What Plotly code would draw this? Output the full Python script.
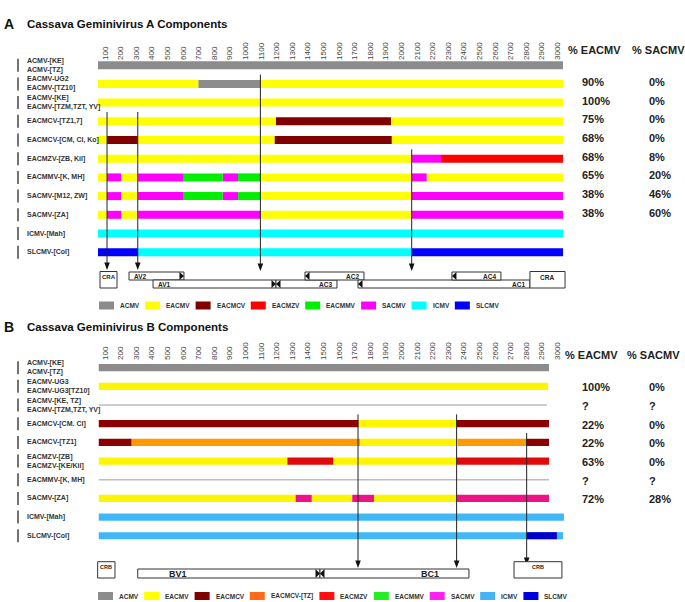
import plotly.graph_objects as go

W, H = 685, 602
FONT = "Liberation Sans, Arial, Helvetica, sans-serif"

# ---------------- Panel A data ----------------
A_ROWS = ["ACMV-[KE]<br>ACMV-[TZ]", "EACMV-UG2<br>EACMV-[TZ10]", "EACMV-[KE]<br>EACMV-[TZM,TZT, YV]",
          "EACMCV-[TZ1,7]", "EACMCV-[CM, CI, Ko]", "EACMZV-[ZB, Kil]", "EACMMV-[K, MH]",
          "SACMV-[M12, ZW]", "SACMV-[ZA]", "ICMV-[Mah]", "SLCMV-[Col]"]
A_BREAKS = [
    [55, 3036],
    [55, 698, 1096, 3036],
    [55, 3036],
    [55, 1196, 1933, 3036],
    [55, 113, 310, 1188, 1938, 3036],
    [55, 2066, 2254, 3036],
    [55, 113, 204, 312, 600, 854, 953, 1096, 2066, 2162, 3036],
    [55, 113, 204, 312, 600, 854, 953, 1096, 2066, 3036],
    [55, 113, 204, 312, 1096, 2066, 3036],
    [55, 3036],
    [55, 312, 2066, 3036],
]
A_SOURCE = [
    ["ACMV"],
    ["EACMV", "ACMV", "EACMV"],
    ["EACMV"],
    ["EACMV", "EACMCV", "EACMV"],
    ["EACMV", "EACMCV", "EACMV", "EACMCV", "EACMV"],
    ["EACMV", "SACMV", "EACMZV"],
    ["EACMV", "SACMV", "EACMV", "SACMV", "EACMMV", "SACMV", "EACMMV", "EACMV", "SACMV", "EACMV"],
    ["EACMV", "SACMV", "EACMV", "SACMV", "EACMMV", "SACMV", "EACMMV", "EACMV", "SACMV"],
    ["EACMV", "SACMV", "EACMV", "SACMV", "EACMV", "SACMV"],
    ["ICMV"],
    ["SLCMV", "ICMV", "SLCMV"],
]
A_PCT_EACMV = ["", "90%", "100%", "75%", "68%", "68%", "65%", "38%", "38%", "", ""]
A_PCT_SACMV = ["", "0%", "0%", "0%", "0%", "8%", "20%", "46%", "60%", "", ""]
A_BREAKPOINT_NT = [113, 310, 1096, 2066]
A_BREAKPOINT_FROM_ROW = [2.5, 2.5, 0.5, 4.5]
A_ORF_NAMES = ["CRA", "AV2", "AV1", "AC3", "AC2", "AC1", "AC4", "CRA"]
A_ORF_START = [68, 254, 408, 1196, 1382, 1722, 2324, 2824]
A_ORF_END = [177, 606, 1196, 1587, 1760, 2824, 2638, 3049]
A_ORF_TRACK = ["both", "upper", "lower", "lower", "upper", "lower", "upper", "both"]
A_ORF_STRAND = ["", "+", "+", "-", "-", "-", "-", ""]
A_LEGEND = ["ACMV", "EACMV", "EACMCV", "EACMZV", "EACMMV", "SACMV", "ICMV", "SLCMV"]

# ---------------- Panel B data ----------------
B_ROWS = ["ACMV-[KE]<br>ACMV-[TZ]", "EACMV-UG3<br>EACMV-UG3[TZ10]", "EACMV-[KE, TZ]<br>EACMV-[TZM,TZT, YV]",
          "EACMCV-[CM. CI]", "EACMCV-[TZ1]", "EACMZV-[ZB]<br>EACMZV-[KE/Kil]", "EACMMV-[K, MH]",
          "SACMV-[ZA]", "ICMV-[Mah]", "SLCMV-[Col]"]
B_BREAKS = [
    [60, 2946],
    [60, 2940],
    [60, 2933],
    [60, 1724, 2354, 2946],
    [60, 271, 1735, 2361, 2799, 2946],
    [60, 1269, 1563, 2354, 2946],
    [60, 2946],
    [60, 1322, 1425, 1685, 1824, 2354, 2946],
    [60, 3042],
    [60, 2805, 2997, 3036],
]
B_SOURCE = [
    ["ACMV"],
    ["EACMV"],
    ["NONE"],
    ["EACMCV", "EACMV", "EACMCV"],
    ["EACMCV", "EACMCV-[TZ]", "EACMV", "EACMCV-[TZ]", "EACMCV"],
    ["EACMV", "EACMZV", "EACMV", "EACMZV"],
    ["NONE"],
    ["EACMV", "SACMV", "EACMV", "SACMV", "EACMV", "SACMV"],
    ["ICMV"],
    ["ICMV", "SLCMV", "ICMV"],
]
B_PCT_EACMV = ["", "100%", "?", "22%", "22%", "63%", "?", "72%", "", ""]
B_PCT_SACMV = ["", "0%", "?", "0%", "0%", "0%", "?", "28%", "", ""]
B_BREAKPOINT_NT = [1722, 2354, 2803]
B_BREAKPOINT_FROM_ROW = [2.5, 2.5, 3.5]
B_ORF_NAMES = ["CRB", "BV1", "BC1", "CRB"]
B_ORF_START = [53, 310, 1478, 2722]
B_ORF_END = [164, 1478, 2433, 3029]
B_ORF_TRACK = ["both", "lower", "lower", "both"]
B_ORF_STRAND = ["", "+", "-", ""]
B_LEGEND = ["ACMV", "EACMV", "EACMCV", "EACMCV-[TZ]", "EACMZV", "EACMMV", "SACMV", "ICMV", "SLCMV"]

TICKS = list(range(100, 3001, 100))

# ---------------- styles ----------------
A_COLORS = {"ACMV": "#8c8c8c", "EACMV": "#ffff00", "EACMCV": "#800000", "EACMZV": "#ff0000",
            "EACMMV": "#00ee00", "SACMV": "#ff00ff", "ICMV": "#00ffff", "SLCMV": "#0000ff"}
B_COLORS = {"ACMV": "#8c8c8c", "EACMV": "#fff500", "EACMCV": "#8b0000", "EACMCV-[TZ]": "#ff9900",
            "EACMZV": "#e00a0a", "EACMMV": "#00ee00", "SACMV": "#ee1188", "ICMV": "#40b8f8",
            "SLCMV": "#0000cc"}
B_LEGEND_COLORS = {"ACMV": "#8c8c8c", "EACMV": "#ffff00", "EACMCV": "#800000", "EACMCV-[TZ]": "#ff6a1a",
                   "EACMZV": "#ff1010", "EACMMV": "#22ee22", "SACMV": "#ff22ee", "ICMV": "#44b4f4",
                   "SLCMV": "#0000dd"}

X100_PX = 105.0
PX_PER_NT = 0.156

fig = go.Figure()


def x_range():
    return [100 - X100_PX / PX_PER_NT, 100 + (W - X100_PX) / PX_PER_NT]


def y_range(row0, step):
    return [(H - row0) / step, -row0 / step]


def add_panel(p):
    xa, ya = p["xa"], p["ya"]
    xr, yr = xa, ya
    row0, step = p["row0"], p["step"]

    def rowy(px):
        return (px - row0) / step

    # bars
    groups = {}
    for i, (b, s) in enumerate(zip(p["breaks"], p["src"])):
        for j, v in enumerate(s):
            if v == "NONE":
                fig.add_trace(go.Scatter(x=[b[j], b[j + 1]], y=[i, i], mode="lines",
                                         line=dict(color="#bdbdbd", width=1.5),
                                         xaxis=xa, yaxis=ya, hoverinfo="skip", showlegend=False))
                continue
            g = groups.setdefault(v, ([], [], []))
            g[0].append(i)
            g[1].append(b[j])
            g[2].append(b[j + 1] - b[j])
    for v, (ys, bs, ls) in groups.items():
        fig.add_trace(go.Bar(y=ys, base=bs, x=ls, orientation="h", width=p["barw"] / step,
                             marker=dict(color=p["colors"][v], line=dict(width=0)),
                             xaxis=xa, yaxis=ya, hoverinfo="skip", showlegend=False, name=v))

    # breakpoint arrows
    head_h = 7.5 / step
    half = 2.8 / PX_PER_NT
    lx, ly = [], []
    for x, r0, tip_px in zip(p["bp"], p["bp_from"], p["bp_tip"]):
        tip = rowy(tip_px)
        lx += [x, x, None]
        ly += [r0, tip - head_h + 0.05, None]
        fig.add_shape(type="path", xref=xr, yref=yr,
                      path=f"M {x - half},{tip - head_h} L {x + half},{tip - head_h} L {x},{tip} Z",
                      fillcolor="#111", line=dict(width=0))
    fig.add_trace(go.Scatter(x=lx, y=ly, mode="lines", line=dict(color="#222", width=1),
                             xaxis=xa, yaxis=ya, hoverinfo="skip", showlegend=False))

    # genome map
    tracks = p["tracks"]
    tri = 4.5 / PX_PER_NT
    for name, s, e, tr, st, lab in zip(p["orf_names"], p["orf_start"], p["orf_end"],
                                       p["orf_track"], p["orf_strand"], p["orf_label"]):
        y0, y1 = rowy(tracks[tr][0]), rowy(tracks[tr][1])
        fig.add_shape(type="rect", xref=xr, yref=yr, x0=s, x1=e, y0=y0, y1=y1,
                      fillcolor="white", line=dict(color="#333", width=1))
        if st == "+":
            fig.add_shape(type="path", xref=xr, yref=yr,
                          path=f"M {e - tri},{y0} L {e},{(y0 + y1) / 2} L {e - tri},{y1} Z",
                          fillcolor="#111", line=dict(width=0))
        elif st == "-":
            fig.add_shape(type="path", xref=xr, yref=yr,
                          path=f"M {s + tri},{y0} L {s},{(y0 + y1) / 2} L {s + tri},{y1} Z",
                          fillcolor="#111", line=dict(width=0))
        kind, size = lab
        fnt = dict(size=size, color="#222", family=FONT)
        if kind == "top":
            fig.add_annotation(x=(s + e) / 2, y=y0, xref=xr, yref=yr, text=f"<b>{name}</b>",
                               showarrow=False, xanchor="center", yanchor="top", font=fnt)
        elif kind == "left":
            fig.add_annotation(x=s + 3 / PX_PER_NT, y=(y0 + y1) / 2, xref=xr, yref=yr,
                               text=f"<b>{name}</b>", showarrow=False, xanchor="left",
                               yanchor="middle", font=fnt)
        elif kind == "right":
            fig.add_annotation(x=e - 3 / PX_PER_NT, y=(y0 + y1) / 2, xref=xr, yref=yr,
                               text=f"<b>{name}</b>", showarrow=False, xanchor="right",
                               yanchor="middle", font=fnt)
        else:
            fig.add_annotation(x=s + kind * (e - s), y=(y0 + y1) / 2, xref=xr, yref=yr,
                               text=f"<b>{name}</b>", showarrow=False, xanchor="center",
                               yanchor="middle", font=fnt)

    # row labels
    for i, lbl in enumerate(p["rows"]):
        fig.add_annotation(x=25 / W, y=i, xref="paper", yref=yr, text=f"<b>{lbl}</b>",
                           showarrow=False, xanchor="left", yanchor="middle", align="left",
                           font=dict(size=7, color="#333", family=FONT))
        fig.add_shape(type="line", xref="paper", yref=yr, x0=18 / W, x1=18 / W,
                      y0=i - 6.5 / step, y1=i + 6.5 / step, line=dict(color="#444", width=1.5))
    # percent columns
    for i, (pe, ps) in enumerate(zip(p["pct_e"], p["pct_s"])):
        for txt, xp in ((pe, 580), (ps, 647)):
            if txt:
                fig.add_annotation(x=xp / W, y=i, xref="paper", yref=yr, text=f"<b>{txt}</b>",
                                   showarrow=False, xanchor="left", yanchor="middle",
                                   yshift=p["pct_shift"],
                                   font=dict(size=11, color="#222", family=FONT))
    # headers
    hy = 1 - p["head_y"] / H
    fig.add_annotation(x=p["head_x"][0] / W, y=hy, xref="paper", yref="paper", text="<b>% EACMV</b>",
                       showarrow=False, xanchor="left", yanchor="middle",
                       font=dict(size=11, color="#222", family=FONT))
    fig.add_annotation(x=p["head_x"][1] / W, y=hy, xref="paper", yref="paper", text="<b>% SACMV</b>",
                       showarrow=False, xanchor="left", yanchor="middle",
                       font=dict(size=11, color="#222", family=FONT))
    # titles
    ty = 1 - p["title_y"] / H
    fig.add_annotation(x=2 / W, y=ty, xref="paper", yref="paper", text=f"<b>{p['letter']}</b>",
                       showarrow=False, xanchor="left", yanchor="middle",
                       font=dict(size=14, color="#111", family=FONT))
    fig.add_annotation(x=25 / W, y=ty, xref="paper", yref="paper", text=f"<b>{p['title']}</b>",
                       showarrow=False, xanchor="left", yanchor="middle",
                       font=dict(size=11.5, color="#111", family=FONT))


CW = {'A': .722, 'C': .722, 'E': .667, 'I': .278, 'M': .833, 'S': .667, 'V': .667, 'Z': .611,
      'T': .611, 'L': .611, '[': .333, ']': .333, '-': .333}


def text_w(s, size):
    return sum(CW.get(c, .6) for c in s) * size


def add_legend(names, colors, x0, yc):
    x = x0
    for n in names:
        fig.add_shape(type="rect", xref="paper", yref="paper", x0=x / W, x1=(x + 15) / W,
                      y0=1 - (yc + 4) / H, y1=1 - (yc - 4) / H, fillcolor=colors[n],
                      line=dict(width=0))
        fig.add_annotation(x=(x + 19) / W, y=1 - yc / H, xref="paper", yref="paper",
                           text=f"<b>{n}</b>", showarrow=False, xanchor="left", yanchor="middle",
                           font=dict(size=6.5, color="#333", family=FONT))
        x += 15 + 4 + text_w(n, 6.5) + 8


panel_a = dict(xa="x", ya="y", row0=65.2, step=18.7, barw=8.0, rows=A_ROWS, breaks=A_BREAKS,
               src=A_SOURCE, colors=A_COLORS, bp=A_BREAKPOINT_NT, bp_from=A_BREAKPOINT_FROM_ROW,
               bp_tip=[270, 270, 271, 271],
               tracks={"upper": (272, 280), "lower": (280, 288), "both": (271.5, 288)},
               orf_names=A_ORF_NAMES, orf_start=A_ORF_START, orf_end=A_ORF_END,
               orf_track=A_ORF_TRACK, orf_strand=A_ORF_STRAND,
               orf_label=[("top", 6), ("left", 6.5), ("left", 6.5), ("right", 6.5), ("right", 6.5),
                          ("right", 6.5), ("right", 6.5), ("top", 6.5)],
               pct_e=A_PCT_EACMV, pct_s=A_PCT_SACMV, pct_shift=2, head_x=(566, 630), head_y=50,
               title_y=24, letter="A", title="Cassava Geminivirus A Components")
panel_b = dict(xa="x2", ya="y2", row0=367.7, step=18.67, barw=7.2, rows=B_ROWS, breaks=B_BREAKS,
               src=B_SOURCE, colors=B_COLORS, bp=B_BREAKPOINT_NT, bp_from=B_BREAKPOINT_FROM_ROW,
               bp_tip=[568, 568, 565],
               tracks={"lower": (569, 578), "both": (561.7, 578)},
               orf_names=B_ORF_NAMES, orf_start=B_ORF_START, orf_end=B_ORF_END,
               orf_track=B_ORF_TRACK, orf_strand=B_ORF_STRAND,
               orf_label=[("top", 5.5), (0.22, 9), (0.74, 9), ("top", 5.5)],
               pct_e=B_PCT_EACMV, pct_s=B_PCT_SACMV, pct_shift=-1, head_x=(563, 625), head_y=355,
               title_y=327, letter="B", title="Cassava Geminivirus B Components")

add_panel(panel_a)
add_panel(panel_b)
add_legend(A_LEGEND, A_COLORS, 99, 305.5)
add_legend(B_LEGEND, B_LEGEND_COLORS, 98, 596)

xcommon = dict(domain=[0, 1], range=x_range(), tickvals=TICKS, ticktext=[str(t) for t in TICKS],
               tickangle=-90, side="top", showgrid=False, zeroline=False, showline=False,
               ticks="", anchor="free", automargin=False,
               tickfont=dict(size=8, color="#444", family=FONT))
fig.update_layout(
    width=W, height=H, margin=dict(l=0, r=0, t=0, b=0),
    paper_bgcolor="white", plot_bgcolor="rgba(0,0,0,0)",
    barmode="overlay", showlegend=False, font=dict(family=FONT),
    xaxis=dict(xcommon, position=1 - 60 / H),
    xaxis2=dict(xcommon, position=1 - 360 / H),
    yaxis=dict(domain=[0, 1], range=y_range(65.2, 18.7), visible=False, anchor="x"),
    yaxis2=dict(domain=[0, 1], range=y_range(367.7, 18.67), visible=False, anchor="x2"),
)

fig.write_html("out.html", config={"displayModeBar": False},
               post_script="document.body.style.margin='0px';document.body.style.overflow='hidden';")
